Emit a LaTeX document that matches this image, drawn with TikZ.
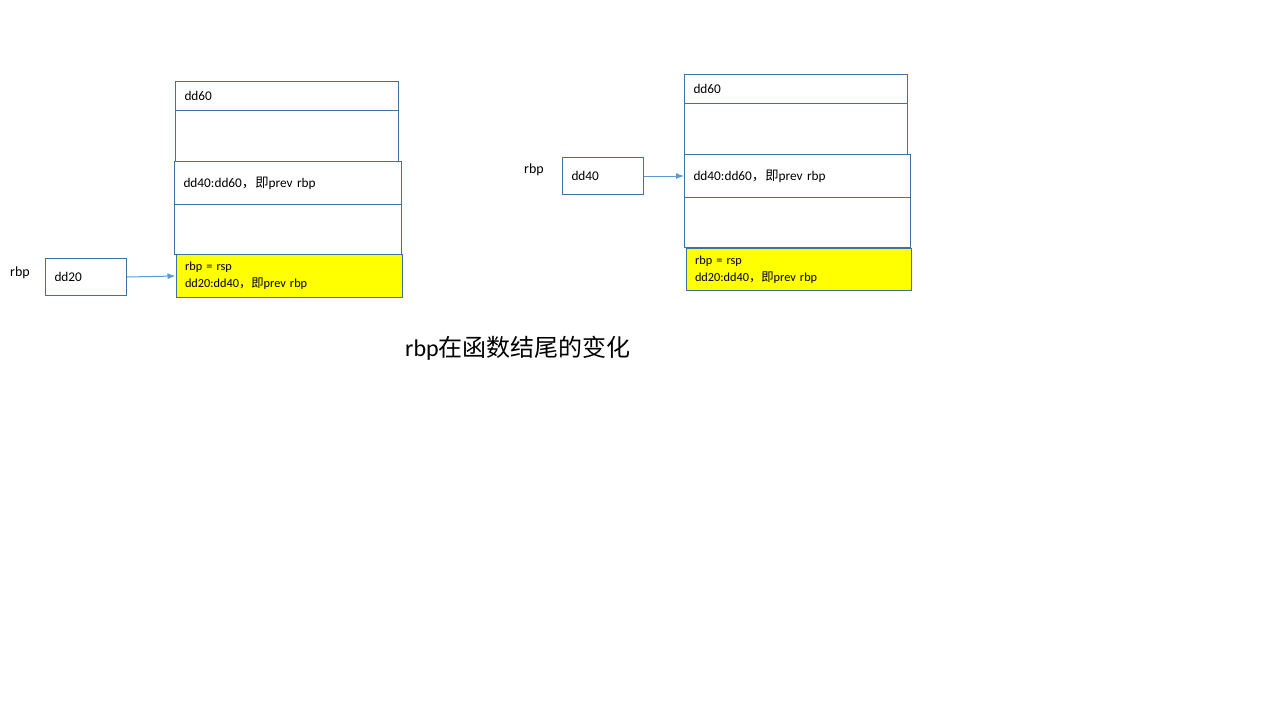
\documentclass[tikz,border=0pt]{standalone}
\usepackage{fontspec}
\setmainfont{Carlito}
\newfontfamily\cjk{Noto Sans CJK SC}
\newcommand\zhtxt[1]{{\cjk #1}}
\usetikzlibrary{arrows.meta}
\definecolor{linec}{HTML}{41719C}
\definecolor{arrc}{HTML}{5B9BD5}
\definecolor{yel}{HTML}{FFFF00}
\begin{document}
\begin{tikzpicture}[x=1pt,y=-1pt,
  cell/.style={draw=linec,line width=1pt,rectangle,anchor=north west,inner xsep=9pt,inner ysep=0pt,align=left,font=\fontsize{13.3}{17}\selectfont},
  ycell/.style={cell,fill=yel,font=\fontsize{12.3}{17}\selectfont},
  lbl/.style={font=\fontsize{14}{17}\selectfont,inner sep=0pt},
  arr/.style={draw=arrc,line width=1pt,-{Latex[length=8pt,width=6pt]}}]
\useasboundingbox (0,0) rectangle (1280,720);
% left group
\node[cell,text width=205pt,minimum height=29pt] (lh) at (175,81) {dd60};
\node[cell,text width=205pt,minimum height=51pt] (lb) at (175,110) {};
\node[cell,text width=209pt,minimum height=43pt] (lm) at (174,161) {dd40:dd60\zhtxt{，即}prev rbp};
\node[cell,text width=209pt,minimum height=50pt] (lmb) at (174,204) {};
\node[ycell,text width=208pt,minimum height=43pt] (ly) at (175.5,254) {rbp = rsp\\dd20:dd40\zhtxt{，即}prev rbp};
\node[lbl] (lr) at (20,273) {rbp};
\node[cell,text width=63pt,minimum height=37pt] (l20) at (45,258) {dd20};
\draw[arr] (l20.east) -- (ly.west);
% right group
\node[cell,text width=205pt,minimum height=29pt] (rh) at (684,74) {dd60};
\node[cell,text width=205pt,minimum height=51pt] (rb) at (684,103) {};
\node[cell,text width=208pt,minimum height=43pt] (rm) at (684,154) {dd40:dd60\zhtxt{，即}prev rbp};
\node[cell,text width=208pt,minimum height=50pt] (rmb) at (684,197) {};
\node[ycell,text width=207pt,minimum height=42.5pt] (ry) at (685.5,247.5) {rbp = rsp\\dd20:dd40\zhtxt{，即}prev rbp};
\node[lbl] (rr) at (534,170) {rbp};
\node[cell,text width=63pt,minimum height=37pt] (r40) at (562,157) {dd40};
\draw[arr] (r40.east) -- (rm.west);
% title
\node[font=\fontsize{24}{28}\selectfont,inner sep=0pt] (title) at (518,348) {rbp\zhtxt{在函数结尾的变化}};
\end{tikzpicture}
\end{document}
